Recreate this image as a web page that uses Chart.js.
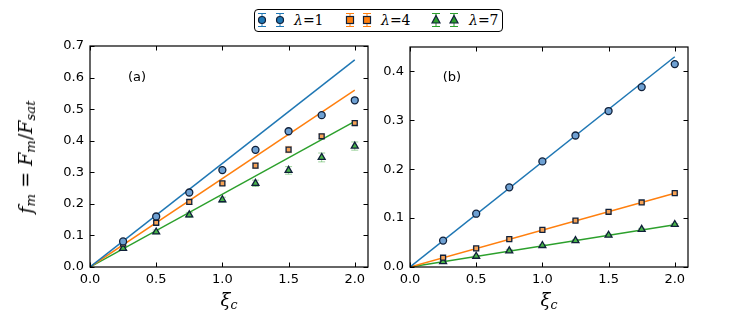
<!DOCTYPE html>
<html>
<head>
<meta charset="utf-8">
<script src="https://cdn.jsdelivr.net/npm/chart.js@4/dist/chart.umd.min.js"></script>
<style>
	body { margin: 0; background: #fff; width: 748px; height: 315px; position: relative; overflow: hidden; font-family: "DejaVu Sans", sans-serif; }
	canvas { position: absolute; top: 0; }
	#cA { left: 0; }
	#cB { left: 376px; }
	.lbl { position: absolute; color: #000; white-space: nowrap; }
	.math { font-family: "DejaVu Serif", serif; white-space: nowrap; }
	.math i { font-style: italic; }
	.math sub { font-size: 70%; vertical-align: -0.25em; line-height: 0; }
	#ylab { left: 25px; top: 157px; font-size: 19px; transform: translate(-50%, -50%) rotate(-90deg); }
	.xlab { top: 299px; font-size: 18px; transform: translate(-50%, -50%); }
	.panel { top: 76px; font-size: 13px; transform: translate(-50%, -50%); }
	#legend { position: absolute; left: 254px; top: 9px; width: 249px; height: 23px; box-sizing: border-box; border: 1.5px solid #000; border-radius: 4px; background: #fff; }
	#legend svg { position: absolute; top: 0px; }
	#legend .txt { position: absolute; top: 9.5px; font-size: 14px; transform: translateY(-50%); }
</style>
</head>
<body>
<canvas id="cA" width="376" height="315"></canvas>
<canvas id="cB" width="372" height="315"></canvas>

<div id="ylab" class="lbl math"><i>f</i><sub><i>m</i></sub> = <i>F</i><sub><i>m</i></sub>/<i>F</i><sub><i>sat</i></sub></div>
<div class="lbl math xlab" style="left:229px"><i>ξ</i><sub><i>c</i></sub></div>
<div class="lbl math xlab" style="left:549px"><i>ξ</i><sub><i>c</i></sub></div>
<div class="lbl panel" style="left:137px">(a)</div>
<div class="lbl panel" style="left:452px">(b)</div>
<div id="legend"></div>

<script>
/*-------------------------------------------------------------------------*/
// Data
/*-------------------------------------------------------------------------*/
var xi = [0.25, 0.5, 0.75, 1.0, 1.25, 1.5, 1.75, 2.0];
var lineX = [0, 2.0];

// panel (a)
var aBlue   = [0.081, 0.160, 0.236, 0.307, 0.371, 0.430, 0.481, 0.528];
var aOrange = [0.074, 0.140, 0.206, 0.265, 0.321, 0.372, 0.414, 0.456];
var aGreen  = [0.059, 0.111, 0.165, 0.213, 0.265, 0.306, 0.347, 0.383];
var aBlueErr   = [0.004, 0.004, 0.004, 0.004, 0.004, 0.004, 0.004, 0.004];
var aOrangeErr = [0.006, 0.006, 0.008, 0.006, 0.008, 0.010, 0.007, 0.008];
var aGreenErr  = [0.004, 0.006, 0.008, 0.008, 0.010, 0.012, 0.014, 0.013];
var aLineBlue   = [0, 0.656];
var aLineOrange = [0, 0.560];
var aLineGreen  = [0, 0.461];

// panel (b)
var bBlue   = [0.054, 0.109, 0.163, 0.216, 0.269, 0.319, 0.368, 0.415];
var bOrange = [0.019, 0.038, 0.057, 0.076, 0.095, 0.113, 0.132, 0.151];
var bGreen  = [0.011, 0.022, 0.033, 0.044, 0.054, 0.065, 0.077, 0.087];
var bBlueErr   = [0.002, 0.002, 0.002, 0.002, 0.002, 0.002, 0.002, 0.002];
var bOrangeErr = [0.002, 0.002, 0.002, 0.002, 0.002, 0.003, 0.002, 0.002];
var bGreenErr  = [0.002, 0.002, 0.003, 0.002, 0.002, 0.002, 0.002, 0.002];
var bLineBlue   = [0, 0.430];
var bLineOrange = [0, 0.151];
var bLineGreen  = [0, 0.0865];

var aYTicks = [0, 0.1, 0.2, 0.3, 0.4, 0.5, 0.6, 0.7];
var bYTicks = [0, 0.1, 0.2, 0.3, 0.4];
var xTicks  = [0, 0.5, 1.0, 1.5, 2.0];

var seriesLabels = ['λ=1', 'λ=4', 'λ=7'];
var COLORS = ['#1f77b4', '#ff7f0e', '#2ca02c'];
var FACES  = ['rgba(110,160,210,1)', '#f7a254', '#49b649'];
var ERRCOL = ['rgba(31,119,180,0.45)', 'rgba(255,127,14,0.45)', 'rgba(44,160,44,0.45)'];
var SHAPES = ['circle', 'rect', 'triangle'];
var EDGE = '#10203a';

/*-------------------------------------------------------------------------*/
// Plugins
/*-------------------------------------------------------------------------*/
var errorBarPlugin = {
	id: 'errorBars',
	beforeDatasetsDraw: function(chart) {
		var ctx = chart.ctx, xs = chart.scales.x, ys = chart.scales.y;
		chart.data.datasets.forEach(function(ds) {
			if (!ds.errors) return;
			ctx.save();
			ctx.strokeStyle = ds.errColor;
			ctx.lineWidth = 1;
			ds.data.forEach(function(p, i) {
				var x = xs.getPixelForValue(p.x);
				var y1 = ys.getPixelForValue(p.y - ds.errors[i]);
				var y2 = ys.getPixelForValue(p.y + ds.errors[i]);
				ctx.beginPath();
				ctx.moveTo(x, y1); ctx.lineTo(x, y2);
				ctx.moveTo(x - 3.5, y1); ctx.lineTo(x + 3.5, y1);
				ctx.moveTo(x - 3.5, y2); ctx.lineTo(x + 3.5, y2);
				ctx.stroke();
			});
			ctx.restore();
		});
	}
};

var framePlugin = {
	id: 'frame',
	afterDraw: function(chart) {
		var ctx = chart.ctx, a = chart.chartArea, xs = chart.scales.x, ys = chart.scales.y;
		var len = 4.5;
		ctx.save();
		ctx.strokeStyle = '#000';
		ctx.lineWidth = 1;
		xs.ticks.forEach(function(t) {
			var x = Math.round(xs.getPixelForValue(t.value)) + 0.5;
			ctx.beginPath();
			ctx.moveTo(x, a.bottom); ctx.lineTo(x, a.bottom - len);
			ctx.moveTo(x, a.top); ctx.lineTo(x, a.top + len);
			ctx.stroke();
		});
		ys.ticks.forEach(function(t) {
			var y = Math.round(ys.getPixelForValue(t.value)) + 0.5;
			ctx.beginPath();
			ctx.moveTo(a.left, y); ctx.lineTo(a.left + len, y);
			ctx.moveTo(a.right, y); ctx.lineTo(a.right - len, y);
			ctx.stroke();
		});
		ctx.lineWidth = 1.2;
		ctx.strokeRect(a.left, a.top, a.right - a.left, a.bottom - a.top);
		ctx.restore();
	}
};

function pts(xv, yv) {
	return xv.map(function(x, i) { return { x: x, y: yv[i] }; });
}

/*-------------------------------------------------------------------------*/
// Panels
/*-------------------------------------------------------------------------*/
function makePanel(canvasId, marks, errs, lines, yMax, yTicks, yWidth, pad) {
	var datasets = [];
	marks.forEach(function(m, k) {
		datasets.push({
			label: seriesLabels[k],
			data: pts(xi, m),
			errors: errs[k],
			errColor: ERRCOL[k],
			showLine: false,
			pointStyle: SHAPES[k],
			pointRadius: k === 2 ? 4 : 3.5,
			pointBackgroundColor: FACES[k],
			pointBorderColor: EDGE,
			pointBorderWidth: 1.3
		});
	});
	lines.forEach(function(l, k) {
		datasets.push({
			data: pts(lineX, l),
			showLine: true,
			borderColor: COLORS[k],
			borderWidth: 1.5,
			pointRadius: 0
		});
	});

	var tickFont = { family: 'DejaVu Sans', size: 13 };
	new Chart(document.getElementById(canvasId), {
		type: 'scatter',
		data: { datasets: datasets },
		plugins: [errorBarPlugin, framePlugin],
		options: {
			responsive: false,
			devicePixelRatio: 1,
			animation: false,
			layout: { padding: pad },
			plugins: { legend: { display: false }, tooltip: { enabled: false } },
			scales: {
				x: {
					type: 'linear', min: 0, max: 2.1,
					grid: { display: false, drawTicks: false },
					border: { display: false },
					afterFit: function(s) { s.height = 48; },
					afterBuildTicks: function(s) { s.ticks = xTicks.map(function(v) { return { value: v }; }); },
					ticks: { padding: 5, maxRotation: 0, autoSkip: false, color: '#000', font: tickFont, callback: function(v) { return Number(v).toFixed(1); } }
				},
				y: {
					type: 'linear', min: 0, max: yMax,
					grid: { display: false, drawTicks: false },
					border: { display: false },
					afterFit: function(s) { s.width = yWidth; },
					afterBuildTicks: function(s) { s.ticks = yTicks.map(function(v) { return { value: v }; }); },
					ticks: { padding: 6, color: '#000', font: tickFont, callback: function(v) { return Number(v).toFixed(1); } }
				}
			}
		}
	});
}

makePanel('cA', [aBlue, aOrange, aGreen], [aBlueErr, aOrangeErr, aGreenErr],
	[aLineBlue, aLineOrange, aLineGreen], 0.7, aYTicks, 90, { left: 0, right: 8, top: 46, bottom: 0 });
makePanel('cB', [bBlue, bOrange, bGreen], [bBlueErr, bOrangeErr, bGreenErr],
	[bLineBlue, bLineOrange, bLineGreen], 0.45, bYTicks, 34, { left: 0, right: 60, top: 47, bottom: 0 });

/*-------------------------------------------------------------------------*/
// Legend
/*-------------------------------------------------------------------------*/
function markerSvg(k) {
	var c = COLORS[k], shape;
	if (k === 0) shape = '<circle cx="7" cy="10" r="3.5" fill="' + c + '" stroke="' + EDGE + '" stroke-width="1.2"/>';
	else if (k === 1) shape = '<rect x="3.5" y="6.5" width="7" height="7" fill="' + c + '" stroke="' + EDGE + '" stroke-width="1.2"/>';
	else shape = '<polygon points="7,5.5 11,13 3,13" fill="' + c + '" stroke="' + EDGE + '" stroke-width="1.2"/>';
	return '<line x1="7" y1="3" x2="7" y2="17" stroke="' + c + '" stroke-width="1"/>' +
		'<line x1="3" y1="3.5" x2="11" y2="3.5" stroke="' + c + '" stroke-width="1"/>' +
		'<line x1="3" y1="16.5" x2="11" y2="16.5" stroke="' + c + '" stroke-width="1"/>' + shape;
}
var legendIcons = [[0, 18], [88, 105], [174, 192]];
var legendText  = [39, 126, 214];
var lg = document.getElementById('legend');
seriesLabels.forEach(function(lab, k) {
	legendIcons[k].forEach(function(x) {
		lg.insertAdjacentHTML('beforeend', '<svg width="14" height="20" style="left:' + x + 'px">' + markerSvg(k) + '</svg>');
	});
	var parts = lab.split('=');
	lg.insertAdjacentHTML('beforeend', '<span class="txt math" style="left:' + legendText[k] + 'px"><i>' + parts[0] + '</i>=' + parts[1] + '</span>');
});
</script>
</body>
</html>
